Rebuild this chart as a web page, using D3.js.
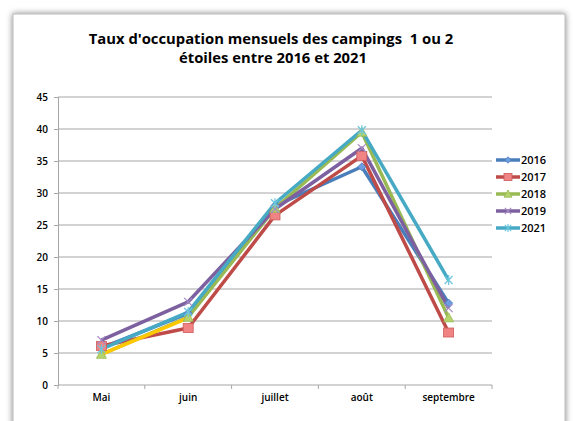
<!DOCTYPE html>
<html><head><meta charset="utf-8">
<script src="https://cdn.jsdelivr.net/npm/d3@7"></script>
<style>body{margin:0;background:#fff;overflow:hidden}svg{display:block}</style>
</head><body>
<script>
const months = ["Mai","juin","juillet","août","septembre"];
const yTicks = [0,5,10,15,20,25,30,35,40,45];
const s2016 = [5.8, 11.2, 28.0, 34.1, 12.8];
const s2017 = [6.1, 8.9, 26.5, 35.8, 8.2];
const s2018 = [4.8, 10.6, 27.6, 39.5, 10.5];
const s2019 = [7.0, 13.0, 27.5, 37.0, 12.0];
const s2021 = [5.6, 11.4, 28.4, 39.8, 16.4];
const sExtra = [4.8, 10.5, null, null, null];
const seriesNames = ["2016","2017","2018","2019","2021"];

const W=574,H=421;
const svg=d3.select("body").append("svg").attr("width",W).attr("height",H);
const defs=svg.append("defs");
const f=defs.append("filter").attr("id","sh").attr("x","-5%").attr("y","-5%").attr("width","110%").attr("height","110%");
f.append("feGaussianBlur").attr("in","SourceAlpha").attr("stdDeviation",3);
f.append("feOffset").attr("dx",0).attr("dy",0).attr("result","b");
f.append("feFlood").attr("flood-color","#000").attr("flood-opacity",0.5);
f.append("feComposite").attr("in2","b").attr("operator","in");
const m=f.append("feMerge");m.append("feMergeNode");m.append("feMergeNode").attr("in","SourceGraphic");
svg.append("rect").attr("x",13).attr("y",14).attr("width",552).attr("height",440).attr("fill","#fff").attr("stroke","#aaa").attr("stroke-width",0.8).attr("filter","url(#sh)");

const title=svg.append("text").attr("text-anchor","middle").attr("font-family","Open Sans, sans-serif").attr("font-weight","bold").attr("font-size",14.8).attr("fill","#000").style("white-space","pre");
title.append("tspan").attr("x",271).attr("y",44).text("Taux d'occupation mensuels des campings  1 ou 2");
title.append("tspan").attr("x",273).attr("y",63).text("étoiles entre 2016 et 2021");

const x0=58,x1=492,yTop=97,yBot=385;
const x=d3.scaleBand().domain(months).range([x0,x1]);
const y=d3.scaleLinear().domain([0,45]).range([yBot,yTop]);

const grid=svg.append("g");
grid.selectAll("line").data(yTicks.filter(d=>d>0)).join("line")
 .attr("x1",x0).attr("x2",x1).attr("y1",d=>y(d)).attr("y2",d=>y(d)).attr("stroke","#a6a6a6").attr("stroke-width",1);

const lab={ff:"Open Sans, sans-serif",fs:10,fw:600};
const ya=svg.append("g").attr("transform",`translate(${x0},0)`).call(d3.axisLeft(y).tickValues(yTicks).tickSize(4).tickPadding(6));
ya.select(".domain").attr("stroke","#a6a6a6");
ya.selectAll(".tick line").attr("stroke","#a6a6a6");
ya.selectAll("text").attr("font-family",lab.ff).attr("font-size",lab.fs).attr("font-weight",lab.fw).attr("fill","#000");

const xa=svg.append("g").attr("transform",`translate(0,${yBot})`).call(d3.axisBottom(x).tickSize(0).tickPadding(9));
xa.select(".domain").remove();
xa.selectAll("text").attr("font-family",lab.ff).attr("font-size",lab.fs).attr("font-weight",lab.fw).attr("fill","#000");
svg.append("line").attr("x1",x0).attr("x2",x1).attr("y1",yBot).attr("y2",yBot).attr("stroke","#a6a6a6");
const bounds=months.map(d=>x(d)).concat([x1]);
svg.append("g").selectAll("line").data(bounds).join("line").attr("x1",d=>d).attr("x2",d=>d).attr("y1",yBot).attr("y2",yBot+4).attr("stroke","#a6a6a6");

const cx=i=>x(months[i])+x.bandwidth()/2;
const series=[
 {name:"2016",vals:s2016,color:"#4A7EBB",marker:"diamond"},
 {name:"2017",vals:s2017,color:"#BE4B48",marker:"square"},
 {name:"2018",vals:s2018,color:"#98B954",marker:"triangle"},
 {name:"2019",vals:s2019,color:"#7D60A0",marker:"x"},
 {name:"2021",vals:s2021,color:"#46AAC5",marker:"star"},
 {name:"",vals:sExtra,color:"#FFC800",marker:"none"}
];
const line=d3.line().defined(d=>d!=null).x((d,i)=>cx(i)).y(d=>y(d));
function drawMarker(g,type,px,py,color,scale){
 const s=scale||1;
 if(type==="diamond"){g.append("path").attr("d",`M${px},${py-4*s}L${px+4*s},${py}L${px},${py+4*s}L${px-4*s},${py}Z`).attr("fill","#6f9be0").attr("stroke",color).attr("stroke-width",0.8);}
 else if(type==="square"){g.append("rect").attr("x",px-5*s).attr("y",py-4.5*s).attr("width",10*s).attr("height",9*s).attr("fill","#F08484").attr("stroke","#d05b5b").attr("stroke-width",0.8);}
 else if(type==="triangle"){g.append("path").attr("d",`M${px},${py-5*s}L${px+5*s},${py+4*s}L${px-5*s},${py+4*s}Z`).attr("fill","#b5d46c").attr("stroke",color).attr("stroke-width",0.8);}
 else if(type==="x"){g.append("path").attr("d",`M${px-4*s},${py-4*s}L${px+4*s},${py+4*s}M${px+4*s},${py-4*s}L${px-4*s},${py+4*s}`).attr("stroke","#a48ac4").attr("stroke-width",1.2);}
 else if(type==="star"){g.append("path").attr("d",`M${px-4*s},${py-4*s}L${px+4*s},${py+4*s}M${px+4*s},${py-4*s}L${px-4*s},${py+4*s}M${px},${py-5*s}L${px},${py+5*s}`).attr("stroke","#6cc6dd").attr("stroke-width",1.2);}
}
const plot=svg.append("g");
series.forEach(s=>{
 plot.append("path").datum(s.vals).attr("d",line).attr("fill","none").attr("stroke",s.color).attr("stroke-width",3.5).attr("stroke-linejoin","round");
});
series.forEach(s=>{
 s.vals.forEach((v,i)=>{ if(v!=null) drawMarker(plot,s.marker,cx(i),y(v),s.color); });
});

const lg=svg.append("g");
series.filter(s=>s.name).forEach((s,i)=>{
 const ly=160+i*17;
 lg.append("line").attr("x1",496).attr("x2",520).attr("y1",ly).attr("y2",ly).attr("stroke",s.color).attr("stroke-width",3.5);
 drawMarker(lg,s.marker,508,ly,s.color,0.8);
 lg.append("text").attr("x",521).attr("y",ly+4).attr("font-family",lab.ff).attr("font-size",11).attr("font-weight",600).attr("fill","#000").text(s.name);
});
</script>
</body></html>
